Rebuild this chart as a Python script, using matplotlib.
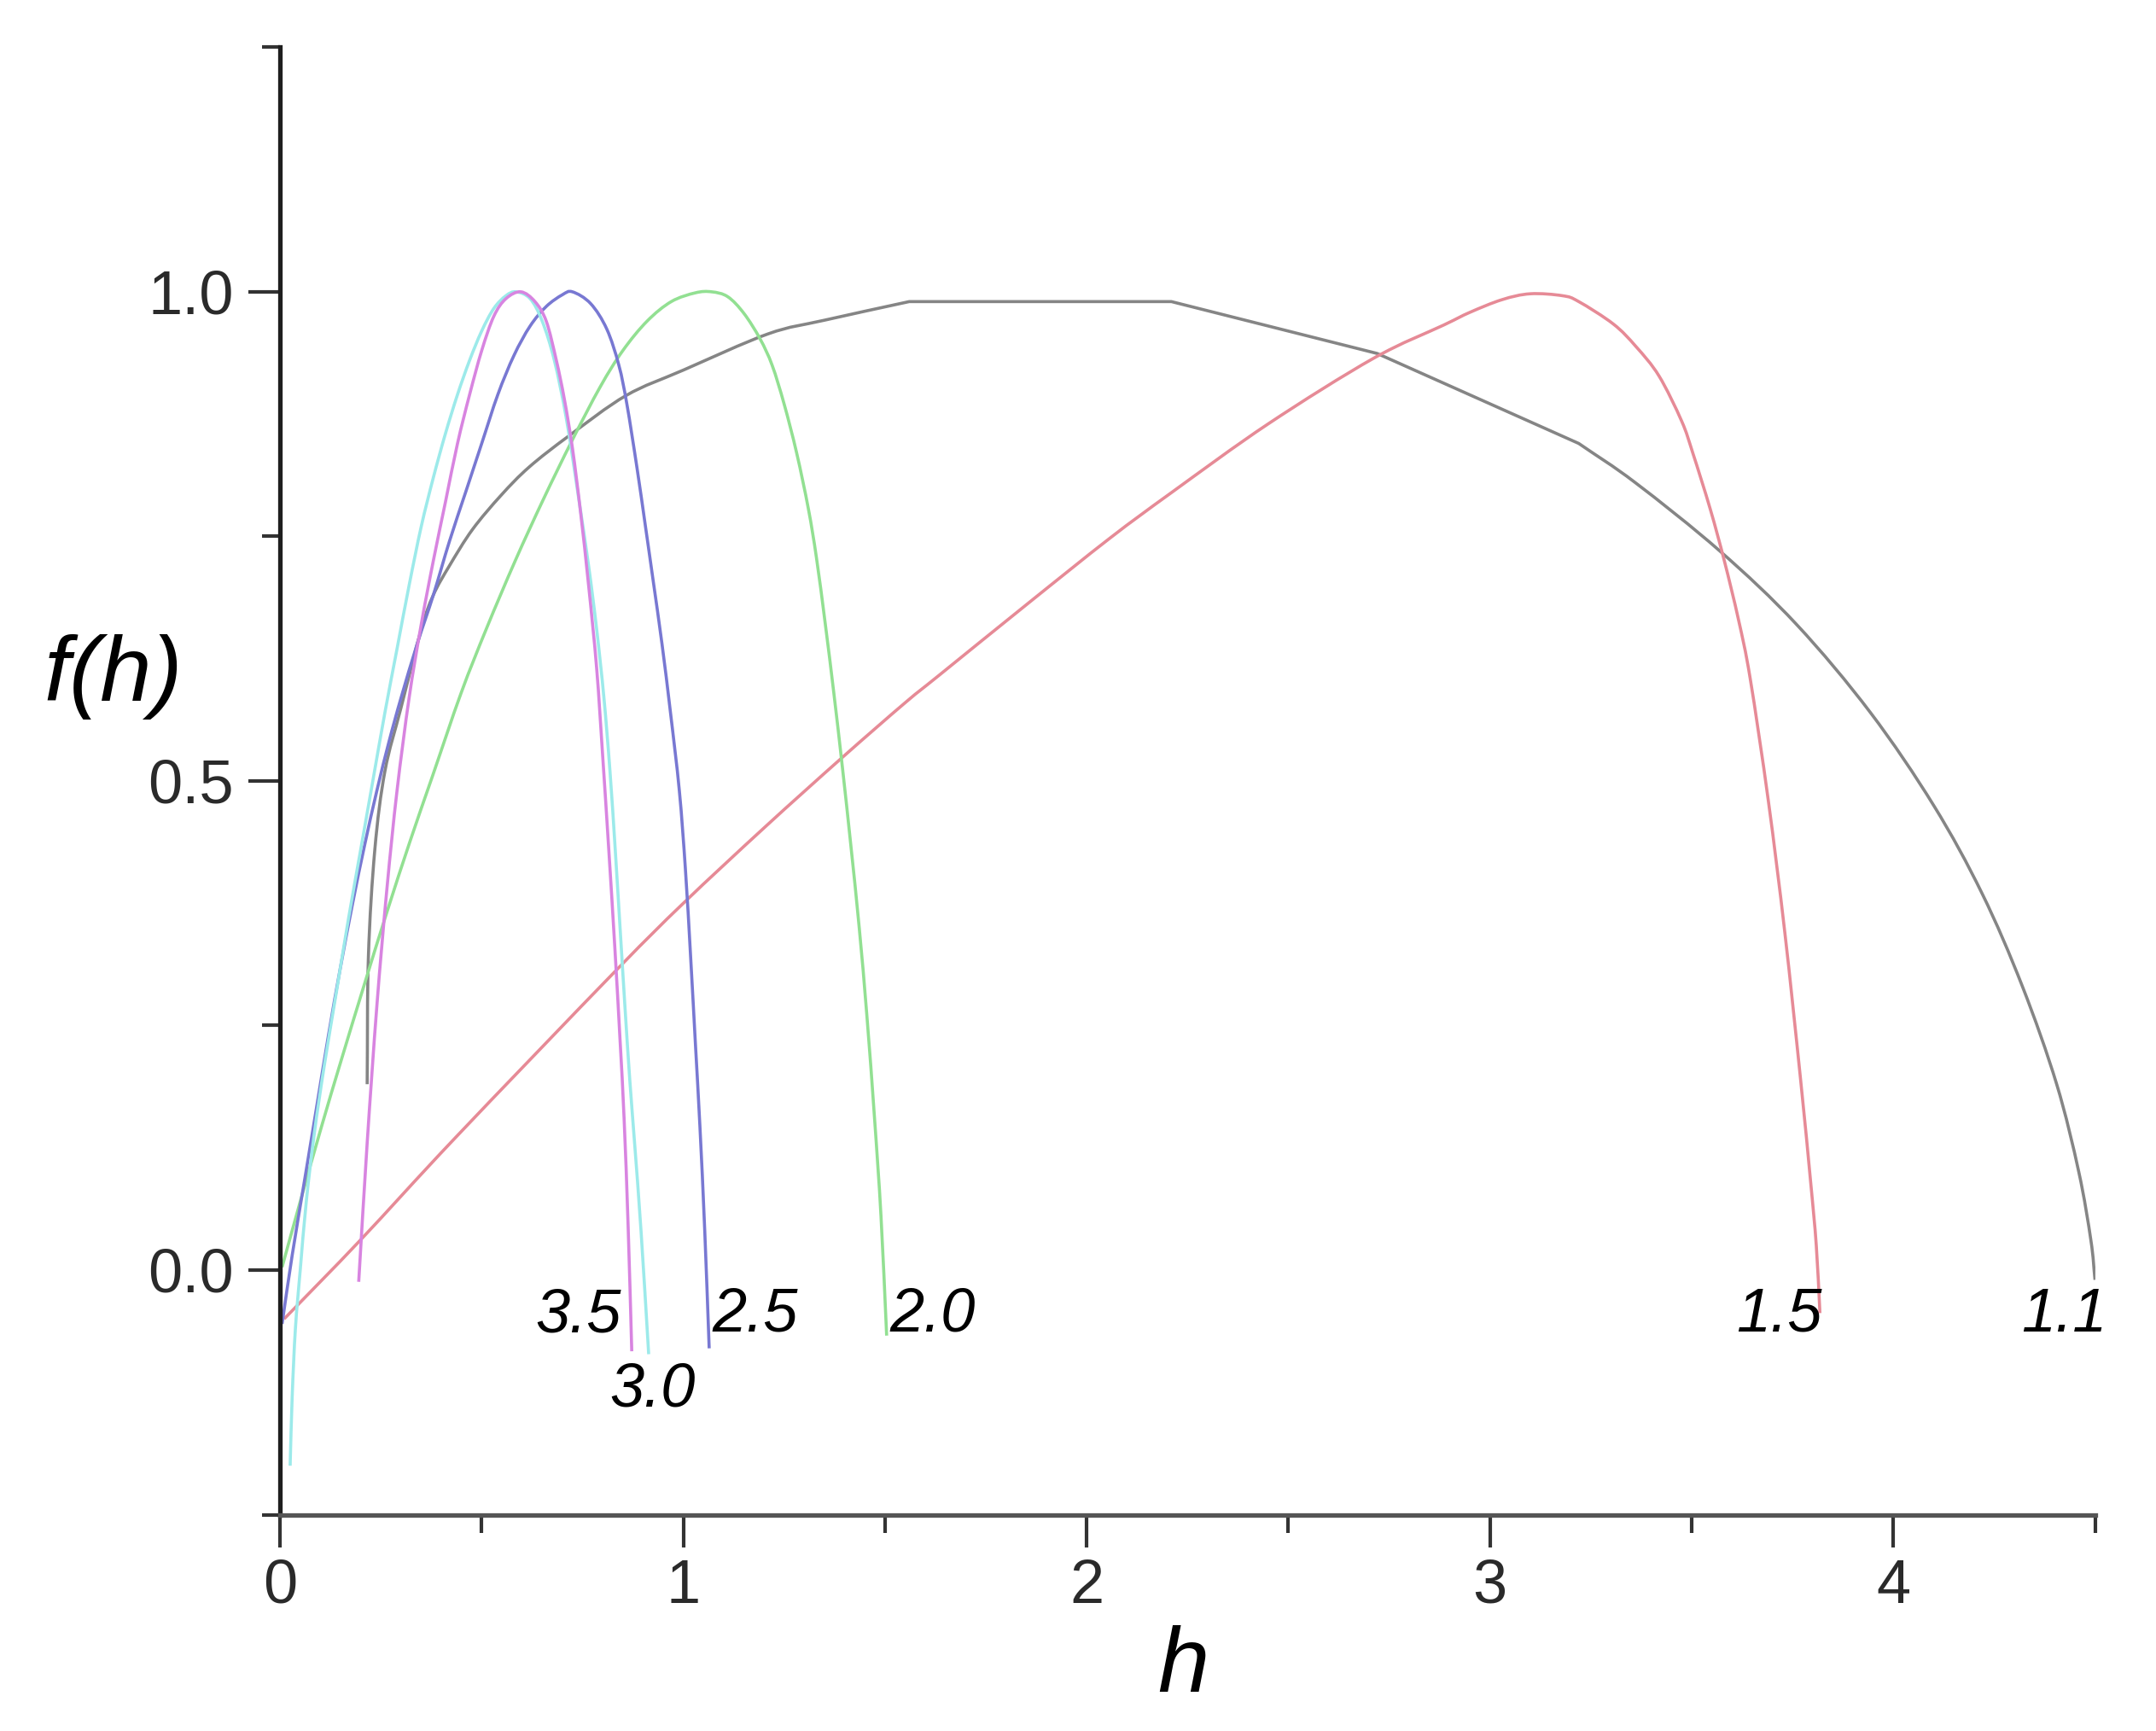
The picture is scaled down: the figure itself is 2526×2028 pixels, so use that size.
import matplotlib
matplotlib.use("Agg")
import matplotlib.pyplot as plt
import numpy as np
from matplotlib.path import Path
from matplotlib.patches import PathPatch

plt.rcParams['font.family'] = ['Liberation Sans', 'DejaVu Sans']

# ---- data ----
h_11 = [0.216, 0.219, 0.235, 0.26, 0.30, 0.35, 0.38, 0.42, 0.477, 0.548, 0.618, 0.717,
        0.858, 1.0, 1.21, 1.35, 1.56, 2.21, 2.72, 3.22, 3.36, 3.57, 3.76, 3.943, 4.10,
        4.22, 4.32, 4.405, 4.46, 4.49, 4.5]
f_11 = [0.19, 0.32, 0.43, 0.51, 0.575, 0.655, 0.69, 0.72, 0.757, 0.792, 0.821, 0.853,
        0.894, 0.92, 0.957, 0.971, 0.99, 0.99, 0.937, 0.845, 0.805, 0.735, 0.66, 0.57,
        0.475, 0.385, 0.29, 0.19, 0.10, 0.03, -0.01]
corners_11 = [1.56, 2.21, 2.72, 3.22]   # visible kinks of the 1.1 curve

h_15 = [0.01, 0.2, 0.434, 0.83, 1.0, 1.2, 1.394, 1.55, 1.634, 1.85, 2.057, 2.211, 2.45,
        2.711, 2.885, 2.95, 3.03, 3.1, 3.18, 3.22, 3.306, 3.362, 3.419, 3.475, 3.503,
        3.546, 3.581, 3.616, 3.645, 3.69, 3.731, 3.77, 3.795, 3.809, 3.818]
f_15 = [-0.05, 0.031, 0.135, 0.305, 0.375, 0.452, 0.524, 0.58, 0.608, 0.68, 0.748, 0.795,
        0.865, 0.932, 0.966, 0.979, 0.992, 0.998, 0.996, 0.99, 0.967, 0.944, 0.914, 0.868,
        0.835, 0.778, 0.725, 0.665, 0.605, 0.48, 0.345, 0.195, 0.09, 0.025, -0.044]

h_20 = [0.005, 0.05, 0.103, 0.152, 0.209, 0.265, 0.322, 0.378, 0.449, 0.512, 0.583, 0.653,
        0.724, 0.794, 0.85, 0.91, 0.97, 1.03, 1.07, 1.11, 1.15, 1.19, 1.22, 1.25, 1.281,
        1.31, 1.33, 1.352, 1.373, 1.394, 1.415, 1.436, 1.455, 1.474, 1.49, 1.504]
f_20 = [0.003, 0.07, 0.147, 0.215, 0.292, 0.366, 0.438, 0.505, 0.59, 0.656, 0.725, 0.788,
        0.848, 0.903, 0.94, 0.97, 0.99, 0.999, 1.0, 0.995, 0.978, 0.952, 0.925, 0.885,
        0.835, 0.778, 0.728, 0.66, 0.59, 0.515, 0.435, 0.35, 0.26, 0.155, 0.055, -0.067]

h_25 = [0.005, 0.03, 0.06, 0.09, 0.12, 0.15, 0.18, 0.21, 0.24, 0.27, 0.30, 0.34, 0.38,
        0.42, 0.46, 0.50, 0.54, 0.58, 0.62, 0.66, 0.70, 0.725, 0.77, 0.81, 0.84, 0.86,
        0.885, 0.905, 0.925, 0.947, 0.968, 0.99, 1.005, 1.018, 1.03, 1.041, 1.053, 1.064]
f_25 = [-0.055, 0.015, 0.09, 0.165, 0.24, 0.31, 0.375, 0.435, 0.49, 0.54, 0.585, 0.64,
        0.69, 0.745, 0.795, 0.845, 0.895, 0.935, 0.965, 0.985, 0.997, 1.0, 0.988, 0.962,
        0.925, 0.885, 0.82, 0.763, 0.705, 0.64, 0.57, 0.49, 0.41, 0.32, 0.23, 0.147, 0.04,
        -0.08]

h_30 = [0.025, 0.03, 0.038, 0.05, 0.065, 0.085, 0.11, 0.14, 0.17, 0.20, 0.23, 0.26, 0.29,
        0.32, 0.35, 0.38, 0.41, 0.44, 0.47, 0.50, 0.53, 0.56, 0.585, 0.62, 0.65, 0.68,
        0.71, 0.74, 0.765, 0.785, 0.803, 0.818, 0.831, 0.843, 0.855, 0.867, 0.879, 0.895,
        0.914]
f_30 = [-0.2, -0.13, -0.06, 0.0, 0.07, 0.14, 0.21, 0.285, 0.36, 0.43, 0.50, 0.57, 0.635,
        0.70, 0.76, 0.81, 0.855, 0.895, 0.93, 0.96, 0.983, 0.996, 1.0, 0.993, 0.97, 0.93,
        0.87, 0.79, 0.72, 0.655, 0.585, 0.51, 0.43, 0.35, 0.27, 0.195, 0.13, 0.04, -0.086]

h_35 = [0.195, 0.216, 0.24, 0.265, 0.29, 0.32, 0.35, 0.38, 0.41, 0.44, 0.47, 0.50, 0.53,
        0.56, 0.597, 0.632, 0.66, 0.685, 0.705, 0.725, 0.745, 0.765, 0.785, 0.80, 0.815,
        0.83, 0.843, 0.853, 0.863, 0.872]
f_35 = [-0.012, 0.13, 0.27, 0.39, 0.49, 0.585, 0.66, 0.725, 0.785, 0.845, 0.895, 0.94,
        0.975, 0.993, 1.0, 0.99, 0.97, 0.93, 0.89, 0.84, 0.775, 0.70, 0.615, 0.525, 0.43,
        0.33, 0.235, 0.155, 0.045, -0.083]

curve_labels = ["1.1", "1.5", "2.0", "2.5", "3.0", "3.5"]
label_h = [4.424, 3.717, 1.618, 1.178, 0.923, 0.740]
label_f = [-0.046, -0.046, -0.046, -0.046, -0.123, -0.047]

x_major = [0, 1, 2, 3, 4]
x_minor = [0.5, 1.5, 2.5, 3.5, 4.5]
y_major = [0.0, 0.5, 1.0]
y_minor = [-0.25, 0.25, 0.75, 1.25]


def smooth_path(xs, ys, corners=()):
    """Smooth line through the read points (cubic Bezier, Catmull-Rom tangents).
    Points listed in `corners` keep a sharp kink."""
    P = np.column_stack([xs, ys]).astype(float)
    n = len(P)
    is_corner = [i == 0 or i == n - 1 or any(abs(xs[i] - c) < 1e-9 for c in corners)
                 for i in range(n)]
    verts = [P[0]]
    codes = [Path.MOVETO]
    for i in range(n - 1):
        a, b = P[i], P[i + 1]
        ta = (b - a) if is_corner[i] else (P[i + 1] - P[i - 1]) / 2.0
        tb = (b - a) if is_corner[i + 1] else (P[i + 2] - P[i]) / 2.0
        verts += [a + ta / 3.0, b - tb / 3.0, b]
        codes += [Path.CURVE4, Path.CURVE4, Path.CURVE4]
    return Path(verts, codes)


# ---- figure ----
fig = plt.figure(figsize=(25.26, 20.28), dpi=100)
ax = fig.add_axes([0.1299, 0.1250, 0.8418, 0.8477])

curves = [(h_11, f_11, '#858585', corners_11), (h_15, f_15, '#E68A96', ()),
          (h_20, f_20, '#92E092', ()), (h_25, f_25, '#7878D2', ()),
          (h_30, f_30, '#9CEAEA', ()), (h_35, f_35, '#D884E0', ())]
for hx, fy, col, cn in curves:
    ax.add_patch(PathPatch(smooth_path(hx, fy, cn), facecolor='none', edgecolor=col,
                           lw=2.6, capstyle='butt', joinstyle='round'))

for txt, hx, fy in zip(curve_labels, label_h, label_f):
    ax.text(hx, fy, txt, fontsize=52, fontstyle='italic', color='black',
            ha='center', va='center', clip_on=False)

ax.set_xlim(0, 4.5)
ax.set_ylim(-0.25, 1.25)
ax.spines['top'].set_visible(False)
ax.spines['right'].set_visible(False)
ax.spines['left'].set_linewidth(3.8)
ax.spines['left'].set_color('#1e1e1e')
ax.spines['bottom'].set_linewidth(3.8)
ax.spines['bottom'].set_color('#555555')

ax.set_xticks(x_major)
ax.set_xticklabels([str(v) for v in x_major])
ax.set_xticks(x_minor, minor=True)
ax.set_yticks(y_major)
ax.set_yticklabels(["%.1f" % v for v in y_major])
ax.set_yticks(y_minor, minor=True)

ax.tick_params(axis='both', which='major', direction='out', length=27, width=3,
               color='#333333', labelsize=52, labelcolor='#2a2a2a')
ax.tick_params(axis='both', which='minor', direction='out', length=15, width=3,
               color='#333333')
ax.tick_params(axis='x', which='major', pad=10)
ax.tick_params(axis='y', which='major', pad=12)

fig.text(133 / 2526, 1 - 793 / 2028, "f(h)", fontsize=78, fontstyle='italic',
         ha='center', va='center', color='black')
fig.text(1386 / 2526, 1 - 1982 / 2028, "h", fontsize=78, fontstyle='italic',
         ha='center', va='baseline', color='black')

fig.savefig("out.png", dpi=100, facecolor='white')
